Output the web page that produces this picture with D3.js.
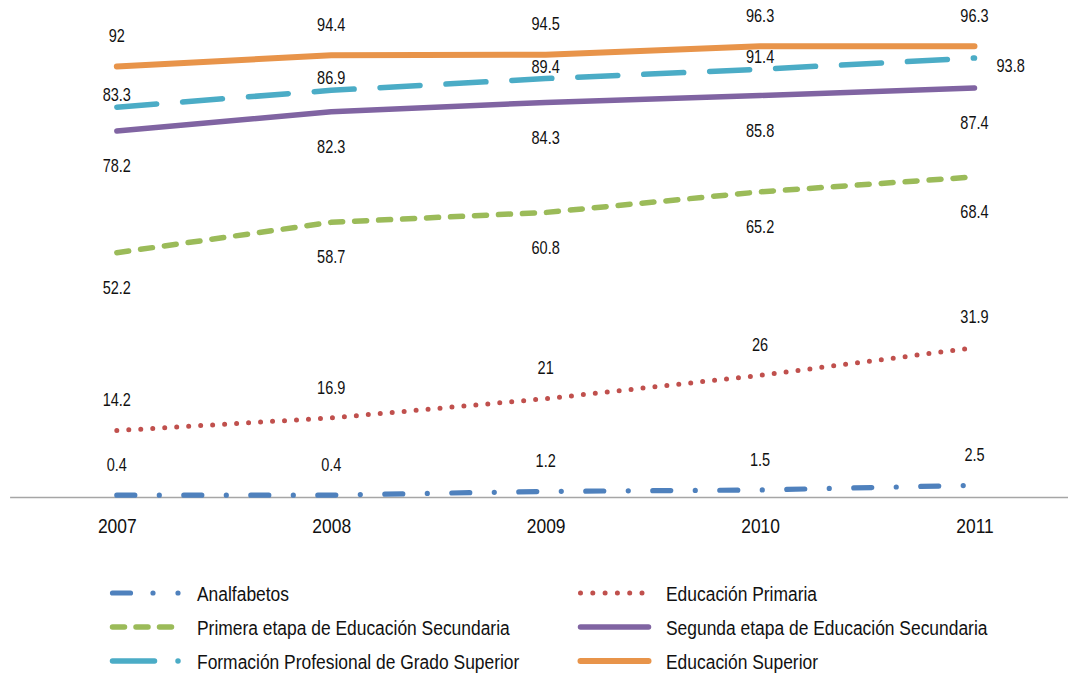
<!DOCTYPE html>
<html>
<head>
<meta charset="utf-8">
<script src="https://cdn.jsdelivr.net/npm/d3@7"></script>
<style>
  html, body { margin: 0; padding: 0; background: #ffffff; }
  svg { display: block; font-family: "Liberation Sans", Arial, sans-serif; }
</style>
</head>
<body>
<svg id="chart" width="1068" height="673"></svg>
<script>
// Years on the category axis
const years = ["2007", "2008", "2009", "2010", "2011"];

// Population share (%) by education level
const analfabetos = [0.4, 0.4, 1.2, 1.5, 2.5];
const educacionPrimaria = [14.2, 16.9, 21, 26, 31.9];
const primeraEtapaSecundaria = [52.2, 58.7, 60.8, 65.2, 68.4];
const segundaEtapaSecundaria = [78.2, 82.3, 84.3, 85.8, 87.4];
const fpGradoSuperior = [83.3, 86.9, 89.4, 91.4, 93.8];
const educacionSuperior = [92, 94.4, 94.5, 96.3, 96.3];

const seriesNames = [
  "Analfabetos",
  "Educación Primaria",
  "Primera etapa de Educación Secundaria",
  "Segunda etapa de Educación Secundaria",
  "Formación Profesional de Grado Superior",
  "Educación Superior"
];

// Series, with stroke styling and where each value label sits
const series = [
  { name: seriesNames[0], values: analfabetos, color: "#4F81BD", width: 5.2, dash: "18 24.5 0 24.5", legendDash: "18 22.5 0 25 0 200", label: "above" },
  { name: seriesNames[1], values: educacionPrimaria, color: "#C0504D", width: 5, dash: "0 12", legendDash: "0 12.3", label: "above" },
  { name: seriesNames[2], values: primeraEtapaSecundaria, color: "#9BBB59", width: 5.5, dash: "12 12", legendDash: "12 11.5", label: "below" },
  { name: seriesNames[3], values: segundaEtapaSecundaria, color: "#8064A2", width: 5.5, dash: null, legendDash: null, label: "below" },
  { name: seriesNames[4], values: fpGradoSuperior, color: "#4BACC6", width: 5.5, dash: "40 26", legendDash: "42 23.5 0 200", label: "near" },
  { name: seriesNames[5], values: educacionSuperior, color: "#E8944A", width: 6, dash: null, legendDash: null, label: "above" }
];

// Narrow letterforms: regular sans squeezed horizontally
const narrow = 0.83;

const svg = d3.select("#chart");

// Scales: categories sit in the middle of equal bands along the axis
const x = d3.scalePoint().domain(years).range([9.6, 1081.7]).padding(0.5);
const y = d3.scaleLinear().domain([0, 100]).range([497, 29]);

// Category axis: a plain grey baseline with year labels underneath
const xAxis = d3.axisBottom(x).tickSize(0).tickPadding(0);
const axisG = svg.append("g").attr("transform", "translate(0,497)").call(xAxis);
axisG.attr("font-family", null).attr("font-size", null);
axisG.select(".domain").attr("stroke", "#A6A6A6").attr("stroke-width", 1.6);
axisG.selectAll(".tick text")
  .attr("y", null)
  .attr("dy", "0.35em")
  .attr("transform", `translate(0,29) scale(${narrow},1)`)
  .attr("fill", "#111")
  .style("font-size", "21px");

const line = d3.line()
  .x((d, i) => x(years[i]))
  .y(d => y(d));

// Lines
const lineG = svg.append("g");
series.forEach(s => {
  lineG.append("path")
    .datum(s.values)
    .attr("d", line)
    .attr("fill", "none")
    .attr("stroke", s.color)
    .attr("stroke-width", s.width)
    .attr("stroke-linecap", "round")
    .attr("stroke-linejoin", "round")
    .attr("stroke-dasharray", s.dash);
});

// Value labels
const labelG = svg.append("g")
  .style("font-size", "17.5px")
  .attr("fill", "#111");

series.forEach(s => {
  s.values.forEach((v, i) => {
    let lx = x(years[i]);
    let ly = y(v);
    let anchor = "middle";
    if (s.label === "above") ly = Math.max(ly - 30.5, 14);
    else if (s.label === "below") ly = ly + 35;
    else if (s.label === "near") {
      if (i === s.values.length - 1) { lx += 22; ly += 8; anchor = "start"; }
      else ly = ly - 12;
    }
    labelG.append("text")
      .attr("transform", `translate(${lx},${ly}) scale(${narrow},1)`)
      .attr("dy", "0.35em")
      .attr("text-anchor", anchor)
      .text(d3.format("~g")(v));
  });
});

// Legend: two columns, three rows
const legendCols = [
  { x1: 112.5, x2: 178.5, tx: 197 },
  { x1: 580.5, x2: 648.5, tx: 666 }
];
const legendRows = [593, 627, 661];
const legendG = svg.append("g").style("font-size", "21px").attr("fill", "#111");
series.forEach((s, k) => {
  const col = legendCols[k % 2];
  const ry = legendRows[Math.floor(k / 2)];
  legendG.append("line")
    .attr("x1", col.x1).attr("x2", k % 2 === 0 && s.dash === null ? col.x1 + 63 : col.x2)
    .attr("y1", ry).attr("y2", ry)
    .attr("stroke", s.color)
    .attr("stroke-width", s.width)
    .attr("stroke-linecap", "round")
    .attr("stroke-dasharray", s.legendDash);
  legendG.append("text")
    .attr("transform", `translate(${col.tx},${ry + 1}) scale(${narrow},1)`)
    .attr("dy", "0.35em")
    .text(s.name);
});
</script>
</body>
</html>
